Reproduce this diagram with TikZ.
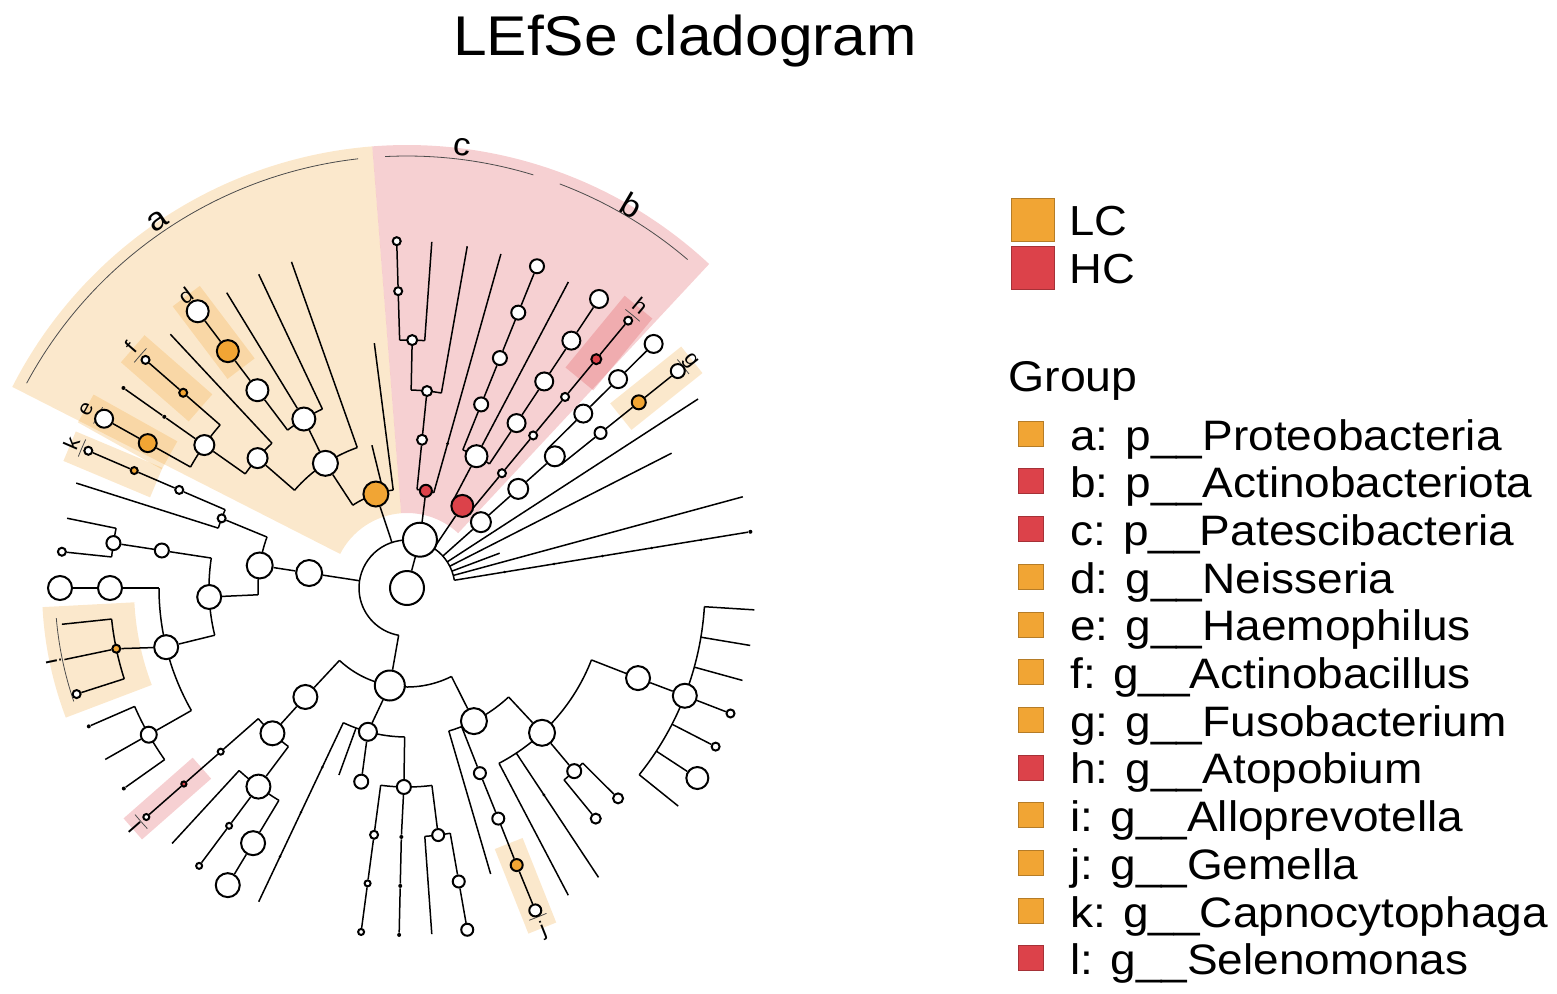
\documentclass[tikz,border=0pt]{standalone}
\usepackage{fontspec}
\setmainfont{Liberation Sans}[FakeStretch=1.08]
\usetikzlibrary{backgrounds}
\definecolor{lcOrange}{RGB}{241,165,52}
\definecolor{hcRed}{RGB}{220,66,74}
\begin{document}
\begin{tikzpicture}[x=0.5pt,y=0.5pt,
    twig/.style={line width=0.75pt},
    cladearc/.style={line width=0.4pt,black!70},
    wnode/.style={circle,draw=black,line width=1pt,fill=white,inner sep=0pt,minimum size=#1},
    onode/.style={wnode=#1,fill=lcOrange},
    rnode/.style={wnode=#1,fill=hcRed},
    dnode/.style={circle,fill=black,inner sep=0pt,minimum size=#1},
    dnode/.default=2pt,
    hlfill/.style={fill=#1,fill opacity=.25},
    biglab/.style={font=\fontsize{16}{18}\selectfont},
    smalllab/.style={font=\fontsize{10.5}{12}\selectfont},
    legtext/.style={anchor=base west,inner sep=0pt,font=\fontsize{21.3}{24}\selectfont},
    legbox/.style={draw=#1!75!black,line width=0.3pt,fill=#1,inner sep=0pt,minimum size=12.5pt}
  ]
\useasboundingbox (-407,-405) rectangle (1150,588);

\node[anchor=base,font=\fontsize{28}{32}\selectfont] (title) at (278,533) {LEfSe cladogram};

\node[wnode=17pt] (root) at (0,0) {};
\node[wnode=17pt] (kb) at (75:50) {};
\node[onode=12.5pt] (pa) at (108.3:99) {};
\node[rnode=6pt] (pc) at (79:99) {};
\node[rnode=11pt] (pb) at (56:99) {};
\node[wnode=10pt] (pf) at (41.7:99) {};
\node[wnode=13pt] (pl) at (171.3:99) {};
\node[wnode=15pt] (pm) at (260:99) {};

\node[wnode=12.5pt] (n1) at (123.2:149) {};
\node[wnode=11.5pt] (n2) at (121.4:198) {};
\node[wnode=10pt] (n3) at (139:198) {};
\node[wnode=10pt] (n4) at (144.8:248) {};
\node[wnode=11pt] (d1) at (127.1:248) {};
\node[onode=11pt] (d2) at (127.1:297) {};
\node[wnode=11pt] (d3) at (127.1:347) {};
\node[onode=4pt] (f1) at (138.9:297) {};
\node[wnode=4pt] (f2) at (138.9:347) {};
\node[dnode] (s1) at (144.8:297) {};
\node[dnode] (s2) at (144.8:347) {};
\node[onode=9pt] (e1) at (150.8:297) {};
\node[wnode=9pt] (e2) at (150.8:347) {};

\node[wnode=5pt] (c1) at (84.2:149) {};
\node[wnode=5pt] (c2) at (84.2:198) {};
\node[wnode=5pt] (c3) at (88.8:248) {};
\node[wnode=4pt] (c4) at (91.7:297) {};
\node[wnode=4pt] (c5) at (91.7:347) {};
\node[dnode=1.6pt] (cdot) at (74.3:150) {};

\node[wnode=11pt] (b1) at (62.2:149) {};
\node[wnode=7pt] (ba1) at (68:198) {};
\node[wnode=7pt] (ba2) at (68:248) {};
\node[wnode=7pt] (ba3) at (68:297) {};
\node[wnode=7pt] (ba4) at (68:347) {};
\node[wnode=9pt] (bb1) at (56.4:198) {};
\node[wnode=9pt] (bb2) at (56.4:248) {};
\node[wnode=9pt] (bb3) at (56.4:297) {};
\node[wnode=9pt] (bb4) at (56.4:347) {};
\node[wnode=4pt] (h1) at (50.4:149) {};
\node[wnode=4pt] (h2) at (50.4:198) {};
\node[wnode=4pt] (h3) at (50.4:248) {};
\node[rnode=5pt] (h4) at (50.4:297) {};
\node[wnode=4pt] (h5) at (50.4:347) {};

\node[wnode=10pt] (u2) at (41.7:149) {};
\node[wnode=10pt] (u3) at (41.7:198) {};
\node[wnode=9pt] (u4) at (44.7:248) {};
\node[wnode=9pt] (u5) at (44.7:297) {};
\node[wnode=9pt] (u6) at (44.7:347) {};
\node[wnode=6pt] (g1) at (38.7:248) {};
\node[onode=7pt] (g2) at (38.7:297) {};
\node[wnode=7pt] (g3) at (38.7:347) {};

\node[dnode=1.4pt] (t1) at (9.3:99) {};
\node[dnode=1.4pt] (t2) at (9.3:149) {};
\node[dnode=1.4pt] (t3) at (9.3:198) {};
\node[dnode=1.4pt] (t4) at (9.3:248) {};
\node[dnode=1.4pt] (t5) at (9.3:298) {};
\node[dnode] (t6) at (9.3:348) {};

\node[wnode=13pt] (l2) at (171.3:149) {};
\node[wnode=4pt] (kn) at (159.4:198) {};
\node[wnode=4pt] (k1) at (156.7:248) {};
\node[onode=3.5pt] (k2) at (156.7:297) {};
\node[wnode=4pt] (k3) at (156.7:347) {};
\node[wnode=12pt] (l3) at (182.6:198) {};
\node[wnode=7pt] (l4) at (171.3:248) {};
\node[wnode=7pt] (l5) at (171.3:297) {};
\node[wnode=4pt] (l5c) at (174:347) {};
\node[wnode=12pt] (l6) at (193.8:248) {};
\node[wnode=12pt] (l7) at (180:297) {};
\node[wnode=12pt] (l8) at (180:347) {};
\node[onode=4pt] (in) at (191.8:297) {};
\node[wnode=4pt] (ic) at (197.8:347) {};
\node[wnode=8pt] (l9) at (209.6:297) {};
\node[dnode] (l9a) at (203.5:347) {};
\node[dnode] (l9c) at (215.3:347) {};

\node[wnode=12pt] (m1) at (227:149) {};
\node[wnode=12pt] (m2) at (227.2:198) {};
\node[wnode=3pt] (sl1) at (221.3:248) {};
\node[rnode=2.6pt] (sl2) at (221.3:297) {};
\node[wnode=3pt] (sl3) at (221.3:347) {};
\node[wnode=12pt] (m3) at (233.2:248) {};
\node[wnode=3pt] (m3a) at (233.2:297) {};
\node[wnode=3pt] (m3b) at (233.2:347) {};
\node[wnode=12pt] (m4) at (238.9:298) {};
\node[wnode=12pt] (m5) at (238.9:347) {};
\node[wnode=9pt] (m6) at (254.8:149) {};
\node[dnode=1.4pt] (mt1) at (244.7:198) {};
\node[dnode=1.4pt] (mt2) at (244.7:248) {};
\node[dnode=1.4pt] (mt3) at (244.7:297) {};
\node[wnode=7pt] (m7) at (256.7:199) {};
\node[wnode=7pt] (m8) at (269.1:199) {};
\node[wnode=4pt] (m8a) at (262.4:249) {};
\node[wnode=3pt] (m8b) at (262.4:298) {};
\node[wnode=3pt] (m8c) at (262.4:347) {};
\node[dnode] (m8d) at (268.7:249) {};
\node[dnode] (m8e) at (268.7:298) {};
\node[dnode] (m8f) at (268.7:347) {};
\node[wnode=6pt] (m9) at (277.2:249) {};
\node[wnode=6pt] (m9a) at (280:298) {};
\node[wnode=6pt] (m9b) at (280:347) {};
\node[wnode=13pt] (q1) at (296.7:149) {};
\node[wnode=6pt] (j1) at (291.5:199) {};
\node[wnode=6pt] (j2) at (291.6:248) {};
\node[onode=6pt] (j3) at (291.6:298) {};
\node[wnode=6pt] (j4) at (291.7:347) {};
\node[wnode=13pt] (q2) at (313:198) {};
\node[dnode=1.6pt] (q2d) at (303.5:248) {};
\node[wnode=7pt] (q3) at (312.4:248) {};
\node[wnode=5pt] (q3a) at (309.3:298) {};
\node[wnode=5pt] (q3b) at (315.1:298) {};
\node[wnode=12pt] (p1) at (338.7:248) {};
\node[wnode=12pt] (p2) at (338.8:298) {};
\node[wnode=4pt] (p2a) at (338.8:347) {};
\node[wnode=4pt] (p2b) at (332.8:347) {};
\node[wnode=11pt] (p2c) at (326.8:347) {};

\begin{scope}[on background layer]
\fill[hlfill=lcOrange] (94.5:443) arc[start angle=94.5,end angle=153,radius=443] -- (153:75) arc[start angle=153,end angle=94.5,radius=75] -- cycle;
\fill[hlfill=hcRed] (47:443) arc[start angle=47,end angle=94.5,radius=443] -- (94.5:75) arc[start angle=94.5,end angle=47,radius=75] -- cycle;
\fill[hlfill=lcOrange,rotate=127.1] (275,-17) -- (366,-17) -- (366,17) -- (275,17) -- cycle;
\fill[hlfill=lcOrange,rotate=138.9] (274,-18) -- (364,-18) -- (364,18) -- (274,18) -- cycle;
\fill[hlfill=lcOrange,rotate=150.8] (272,-16) -- (368,-16) -- (368,16) -- (272,16) -- cycle;
\fill[hlfill=lcOrange,rotate=157.2] (272,-16) -- (366,-16) -- (366,16) -- (272,16) -- cycle;
\fill[hlfill=hcRed,rotate=50.5] (271,-18) -- (364,-18) -- (364,18) -- (271,18) -- cycle;
\fill[hlfill=lcOrange,rotate=38.7] (274,-17) -- (365,-17) -- (365,17) -- (274,17) -- cycle;
\fill[hlfill=lcOrange,rotate=291.7] (275,-15) -- (366,-15) -- (366,15) -- (275,15) -- cycle;
\fill[hlfill=hcRed,rotate=221.3] (273,-14) -- (365,-14) -- (365,14) -- (273,14) -- cycle;
\fill[hlfill=lcOrange] (183:272) -- (183:365) arc[start angle=183,end angle=200.8,radius=365] -- (200.8:273) arc[start angle=200.8,end angle=183,radius=273] -- cycle;

\draw[cladearc] (96.5:432) arc[start angle=96.5,end angle=151.7,radius=432];
\draw[cladearc] (73:432) arc[start angle=73,end angle=92.9,radius=432];
\draw[cladearc] (49.5:432) arc[start angle=49.5,end angle=69.3,radius=432];
\draw[cladearc] (184.9:352) arc[start angle=184.9,end angle=198.8,radius=352];
\draw[cladearc] (125.6:354) arc[start angle=125.6,end angle=128.6,radius=354];
\draw[cladearc] (137.4:354) arc[start angle=137.4,end angle=140.4,radius=354];
\draw[cladearc] (149.3:354) arc[start angle=149.3,end angle=152.3,radius=354];
\draw[cladearc] (155.2:354) arc[start angle=155.2,end angle=158.2,radius=354];
\draw[cladearc] (48.9:354) arc[start angle=48.9,end angle=51.9,radius=354];
\draw[cladearc] (37.2:354) arc[start angle=37.2,end angle=40.2,radius=354];
\draw[cladearc] (290.2:354) arc[start angle=290.2,end angle=293.2,radius=354];
\draw[cladearc] (219.8:354) arc[start angle=219.8,end angle=222.8,radius=354];

\coordinate (rarc) at (9.3:48);
\draw[twig] (rarc) arc[start angle=9.3,end angle=260,radius=48];
\draw[twig] (root) -- (kb);
\coordinate (ra) at (108.3:48);
\coordinate (rb) at (56:48);
\coordinate (rf) at (41.7:48);
\coordinate (rl) at (171.3:48);
\coordinate (rm) at (260:48);
\draw[twig] (ra) -- (pa);
\draw[twig] (rb) -- (pb);
\draw[twig] (rf) -- (pf);
\draw[twig] (rl) -- (pl);
\draw[twig] (rm) -- (pm);
\coordinate (r33) at (33:48);
\coordinate (r33e) at (33:347);
\coordinate (r27) at (27:48);
\coordinate (r27e) at (27:297);
\coordinate (r21) at (20.6:48);
\coordinate (r21e) at (20.6:99);
\coordinate (r15) at (15.2:48);
\coordinate (r15e) at (15.2:348);
\coordinate (r9) at (9.3:48);
\draw[twig] (r33) -- (r33e);
\draw[twig] (r27) -- (r27e);
\draw[twig] (r21) -- (r21e);
\draw[twig] (r15) -- (r15e);
\draw[twig] (r9) -- (t6);

\coordinate (pa1) at (98:99);
\coordinate (pa1e) at (97.6:247);
\coordinate (pa2) at (123.2:99);
\coordinate (pa3) at (103.8:99);
\coordinate (pa3e) at (103.8:147);
\draw[twig] (pa1) arc[start angle=98,end angle=123.2,radius=99];
\draw[twig] (pa1) -- (pa1e);
\draw[twig] (pa3) -- (pa3e);
\draw[twig] (pa2) -- (n1);
\coordinate (n1a) at (109.5:149);
\coordinate (n1ae) at (109.5:346);
\coordinate (n1b) at (139:149);
\draw[twig] (n1a) arc[start angle=109.5,end angle=139,radius=149];
\draw[twig] (n1a) -- (n1ae);
\draw[twig] (n1) -- (n2);
\draw[twig] (n1b) -- (n3);
\coordinate (n2a) at (115.3:198);
\coordinate (n2ae) at (115.3:347);
\coordinate (n2b) at (127.1:198);
\coordinate (n2e) at (121.4:346);
\draw[twig] (n2a) arc[start angle=115.3,end angle=127.1,radius=198];
\draw[twig] (n2a) -- (n2ae);
\draw[twig] (n2) -- (n2e);
\draw[twig] (n2b) -- (d1);
\draw[twig] (d1) -- (d2);
\draw[twig] (d2) -- (d3);
\coordinate (n3a) at (133:198);
\coordinate (n3ae) at (133:347);
\coordinate (n3b) at (144.8:198);
\draw[twig] (n3a) arc[start angle=133,end angle=144.8,radius=198];
\draw[twig] (n3a) -- (n3ae);
\draw[twig] (n3b) -- (n4);
\coordinate (n4a) at (138.9:248);
\coordinate (n4b) at (150.8:248);
\draw[twig] (n4a) arc[start angle=138.9,end angle=150.8,radius=248];
\draw[twig] (n4a) -- (f1);
\draw[twig] (f1) -- (f2);
\draw[twig] (n4) -- (s1);
\draw[twig] (s1) -- (s2);
\draw[twig] (n4b) -- (e1);
\draw[twig] (e1) -- (e2);

\draw[twig] (kb) -- (pc);
\coordinate (pc1) at (74.3:99);
\coordinate (pc1e) at (74.3:347);
\coordinate (pc2) at (84.2:99);
\draw[twig] (pc1) arc[start angle=74.3,end angle=84.2,radius=99];
\draw[twig] (pc1) -- (pc1e);
\draw[twig] (pc2) -- (c1);
\draw[twig] (c1) -- (c2);
\coordinate (c2a) at (80:198);
\coordinate (c2ae) at (80:347);
\coordinate (c2b) at (88.8:198);
\draw[twig] (c2a) arc[start angle=80,end angle=88.8,radius=198];
\draw[twig] (c2a) -- (c2ae);
\draw[twig] (c2b) -- (c3);
\coordinate (c3a) at (85.9:248);
\coordinate (c3ae) at (85.9:347);
\coordinate (c3b) at (91.7:248);
\draw[twig] (c3a) arc[start angle=85.9,end angle=91.7,radius=248];
\draw[twig] (c3a) -- (c3ae);
\draw[twig] (c3b) -- (c4);
\draw[twig] (c4) -- (c5);

\coordinate (pb1) at (50.4:99);
\coordinate (pb2) at (62.2:99);
\draw[twig] (pb1) arc[start angle=50.4,end angle=62.2,radius=99];
\draw[twig] (pb1) -- (h1);
\draw[twig] (h1) -- (h2);
\draw[twig] (h2) -- (h3);
\draw[twig] (h3) -- (h4);
\draw[twig] (h4) -- (h5);
\draw[twig] (pb2) -- (b1);
\coordinate (b1a) at (56.4:149);
\coordinate (b1b) at (68:149);
\coordinate (b1e) at (62.2:346);
\draw[twig] (b1a) arc[start angle=56.4,end angle=68,radius=149];
\draw[twig] (b1) -- (b1e);
\draw[twig] (b1a) -- (bb1);
\draw[twig] (bb1) -- (bb2);
\draw[twig] (bb2) -- (bb3);
\draw[twig] (bb3) -- (bb4);
\draw[twig] (b1b) -- (ba1);
\draw[twig] (ba1) -- (ba2);
\draw[twig] (ba2) -- (ba3);
\draw[twig] (ba3) -- (ba4);

\draw[twig] (pf) -- (u2);
\draw[twig] (u2) -- (u3);
\coordinate (u3a) at (38.7:198);
\coordinate (u3b) at (44.7:198);
\draw[twig] (u3a) arc[start angle=38.7,end angle=44.7,radius=198];
\draw[twig] (u3a) -- (g1);
\draw[twig] (g1) -- (g2);
\draw[twig] (g2) -- (g3);
\draw[twig] (u3b) -- (u4);
\draw[twig] (u4) -- (u5);
\draw[twig] (u5) -- (u6);

\draw[twig] (pl) -- (l2);
\coordinate (l2a) at (160:149);
\coordinate (l2b) at (182.6:149);
\draw[twig] (l2a) arc[start angle=160,end angle=182.6,radius=149];
\draw[twig] (l2a) -- (kn);
\coordinate (kna) at (156.7:198);
\coordinate (knb) at (162.4:198);
\coordinate (knbe) at (162.4:347);
\draw[twig] (kna) arc[start angle=156.7,end angle=162.4,radius=198];
\draw[twig] (kna) -- (k1);
\draw[twig] (k1) -- (k2);
\draw[twig] (k2) -- (k3);
\draw[twig] (knb) -- (knbe);
\draw[twig] (l2b) -- (l3);
\coordinate (l3a) at (171.3:198);
\coordinate (l3b) at (193.8:198);
\draw[twig] (l3a) arc[start angle=171.3,end angle=193.8,radius=198];
\draw[twig] (l3a) -- (l4);
\draw[twig] (l4) -- (l5);
\coordinate (l5a) at (168.4:297);
\coordinate (l5ae) at (168.4:347);
\coordinate (l5b) at (174:297);
\draw[twig] (l5a) arc[start angle=168.4,end angle=174,radius=297];
\draw[twig] (l5a) -- (l5ae);
\draw[twig] (l5b) -- (l5c);
\draw[twig] (l3b) -- (l6);
\coordinate (l6a) at (180:248);
\coordinate (l6b) at (209.6:248);
\draw[twig] (l6a) arc[start angle=180,end angle=209.6,radius=248];
\draw[twig] (l6a) -- (l7);
\draw[twig] (l7) -- (l8);
\draw[twig] (l6) -- (in);
\coordinate (ina) at (186:297);
\coordinate (inae) at (186:347);
\coordinate (inb) at (197.8:297);
\coordinate (ine) at (191.8:350);
\draw[twig] (ina) arc[start angle=186,end angle=197.8,radius=297];
\draw[twig] (ina) -- (inae);
\draw[twig] (inb) -- (ic);
\draw[twig] (in) -- (ine);
\draw[twig] (l6b) -- (l9);
\coordinate (l9a0) at (203.5:297);
\coordinate (l9c0) at (215.3:297);
\coordinate (l9e) at (209.6:347);
\draw[twig] (l9a0) arc[start angle=203.5,end angle=215.3,radius=297];
\draw[twig] (l9a0) -- (l9a);
\draw[twig] (l9) -- (l9e);
\draw[twig] (l9c0) -- (l9c);

\coordinate (pm1) at (227:99);
\coordinate (pm2) at (296.7:99);
\draw[twig] (pm1) arc[start angle=227,end angle=296.7,radius=99];
\draw[twig] (pm1) -- (m1);
\draw[twig] (m1) -- (m2);
\coordinate (m2a) at (221.3:198);
\coordinate (m2b) at (233.2:198);
\draw[twig] (m2a) arc[start angle=221.3,end angle=233.2,radius=198];
\draw[twig] (m2a) -- (sl1);
\draw[twig] (sl1) -- (sl2);
\draw[twig] (sl2) -- (sl3);
\draw[twig] (m2b) -- (m3);
\coordinate (m3a0) at (227.4:248);
\coordinate (m3ae) at (227.4:347);
\coordinate (m3c0) at (238.9:248);
\draw[twig] (m3a0) arc[start angle=227.4,end angle=238.9,radius=248];
\draw[twig] (m3a0) -- (m3ae);
\draw[twig] (m3) -- (m3a);
\draw[twig] (m3a) -- (m3b);
\draw[twig] (m3c0) -- (m4);
\draw[twig] (m4) -- (m5);
\draw[twig] (pm) -- (m6);
\coordinate (m6a) at (244.7:149);
\coordinate (m6ae) at (244.7:347);
\coordinate (m6b) at (250:149);
\coordinate (m6be) at (250:199);
\coordinate (m6c) at (269.1:149);
\draw[twig] (m6a) arc[start angle=244.7,end angle=269.1,radius=149];
\draw[twig] (m6a) -- (m6ae);
\draw[twig] (m6b) -- (m6be);
\draw[twig] (m6) -- (m7);
\draw[twig] (m6c) -- (m8);
\coordinate (m8a0) at (262.4:199);
\coordinate (m8b0) at (277.2:199);
\draw[twig] (m8a0) arc[start angle=262.4,end angle=277.2,radius=199];
\draw[twig] (m8a0) -- (m8a);
\draw[twig] (m8a) -- (m8b);
\draw[twig] (m8b) -- (m8c);
\draw[twig] (m8) -- (m8d);
\draw[twig] (m8d) -- (m8e);
\draw[twig] (m8e) -- (m8f);
\draw[twig] (m8b0) -- (m9);
\coordinate (m9a0) at (274.1:249);
\coordinate (m9ae) at (274.1:347);
\coordinate (m9b0) at (280:249);
\draw[twig] (m9a0) arc[start angle=274.1,end angle=280,radius=249];
\draw[twig] (m9a0) -- (m9ae);
\draw[twig] (m9b0) -- (m9a);
\draw[twig] (m9a) -- (m9b);
\draw[twig] (pm2) -- (q1);
\coordinate (q1a) at (286.3:149);
\coordinate (q1ae) at (286.3:298);
\coordinate (q1b) at (291.5:149);
\coordinate (q1c) at (313:149);
\draw[twig] (q1a) arc[start angle=286.3,end angle=313,radius=149];
\draw[twig] (q1a) -- (q1ae);
\draw[twig] (q1b) -- (j1);
\draw[twig] (j1) -- (j2);
\draw[twig] (j2) -- (j3);
\draw[twig] (j3) -- (j4);
\draw[twig] (q1c) -- (q2);
\coordinate (q2a) at (297.7:198);
\coordinate (q2ae) at (297.7:347);
\coordinate (q2b) at (303.5:198);
\coordinate (q2be) at (303.5:347);
\coordinate (q2c) at (338.7:198);
\draw[twig] (q2a) arc[start angle=297.7,end angle=338.7,radius=198];
\draw[twig] (q2a) -- (q2ae);
\draw[twig] (q2b) -- (q2be);
\draw[twig] (q2) -- (q3);
\coordinate (q3a0) at (309.3:248);
\coordinate (q3b0) at (315.1:248);
\draw[twig] (q3a0) arc[start angle=309.3,end angle=315.1,radius=248];
\draw[twig] (q3a0) -- (q3a);
\draw[twig] (q3b0) -- (q3b);
\draw[twig] (q2c) -- (p1);
\draw[twig] (p1) -- (p2);
\coordinate (pz1) at (356.4:298);
\coordinate (pz1e) at (356.4:348);
\coordinate (pz2) at (350.5:298);
\coordinate (pz2e) at (350.5:348);
\coordinate (pz3) at (344.6:298);
\coordinate (pz3e) at (344.6:348);
\coordinate (pz5) at (332.8:298);
\coordinate (pz6) at (326.8:298);
\coordinate (pz7) at (321.2:298);
\coordinate (pz7e) at (321.2:348);
\draw[twig] (pz7) arc[start angle=321.2,end angle=356.4,radius=298];
\draw[twig] (pz1) -- (pz1e);
\draw[twig] (pz2) -- (pz2e);
\draw[twig] (pz3) -- (pz3e);
\draw[twig] (p2) -- (p2a);
\draw[twig] (pz5) -- (p2b);
\draw[twig] (pz6) -- (p2c);
\draw[twig] (pz7) -- (pz7e);
\end{scope}

\node[biglab,rotate=34.2] (laba) at (124.2:444) {a};
\node[biglab,rotate=-7.1] (labc) at (82.9:444) {c};
\node[biglab,rotate=-30.4] (labb) at (59.6:444) {b};
\node[smalllab,rotate=37.1] (labd) at (127.1:367) {d};
\node[smalllab,rotate=48.9] (labf) at (138.9:366) {f};
\node[smalllab,rotate=60.8] (labe) at (150.8:367) {e};
\node[smalllab,rotate=66.6] (labk) at (156.6:365) {k};
\node[smalllab,rotate=-39.6] (labh) at (50.4:366) {h};
\node[smalllab,rotate=-51.3] (labg) at (38.7:363) {g};
\node[smalllab,rotate=21.7] (labj) at (291.7:369) {j};
\node[smalllab,rotate=-48.7] (labl) at (221.3:362) {l};
\node[smalllab,rotate=-78.2] (labi) at (191.8:361) {i};

\node[legbox=lcOrange,minimum size=21.5pt] (boxLC) at (625.5,368) {};
\node[legbox=hcRed,minimum size=21.5pt] (boxHC) at (625.5,320.5) {};
\node[anchor=base west,inner sep=0pt,font=\fontsize{21}{24}\selectfont] (txtLC) at (662,353) {LC};
\node[anchor=base west,inner sep=0pt,font=\fontsize{21}{24}\selectfont] (txtHC) at (662,305) {HC};
\node[anchor=base west,inner sep=0pt,font=\fontsize{21.5}{24}\selectfont] (txtGroup) at (601,197) {Group};

\node[legbox=lcOrange] (sqa) at (623.5,154.5) {};
\node[legbox=hcRed] (sqb) at (623.5,106.8) {};
\node[legbox=hcRed] (sqc) at (623.5,59.1) {};
\node[legbox=lcOrange] (sqd) at (623.5,11.4) {};
\node[legbox=lcOrange] (sqe) at (623.5,-36.3) {};
\node[legbox=lcOrange] (sqf) at (623.5,-84) {};
\node[legbox=lcOrange] (sqg) at (623.5,-131.7) {};
\node[legbox=hcRed] (sqh) at (623.5,-179.4) {};
\node[legbox=lcOrange] (sqi) at (623.5,-227.1) {};
\node[legbox=lcOrange] (sqj) at (623.5,-274.8) {};
\node[legbox=lcOrange] (sqk) at (623.5,-322.5) {};
\node[legbox=hcRed] (sql) at (623.5,-370.2) {};
\node[legtext] (txta) at (663,138) {a: p\_\_Proteobacteria};
\node[legtext] (txtb) at (663,90.3) {b: p\_\_Actinobacteriota};
\node[legtext] (txtc) at (663,42.6) {c: p\_\_Patescibacteria};
\node[legtext] (txtd) at (663,-5.1) {d: g\_\_Neisseria};
\node[legtext] (txte) at (663,-52.8) {e: g\_\_Haemophilus};
\node[legtext] (txtf) at (663,-100.5) {f: g\_\_Actinobacillus};
\node[legtext] (txtg) at (663,-148.2) {g: g\_\_Fusobacterium};
\node[legtext] (txth) at (663,-195.9) {h: g\_\_Atopobium};
\node[legtext] (txti) at (663,-243.6) {i: g\_\_Alloprevotella};
\node[legtext] (txtj) at (663,-291.3) {j: g\_\_Gemella};
\node[legtext] (txtk) at (663,-339) {k: g\_\_Capnocytophaga};
\node[legtext] (txtl) at (663,-386.7) {l: g\_\_Selenomonas};
\end{tikzpicture}
\end{document}
